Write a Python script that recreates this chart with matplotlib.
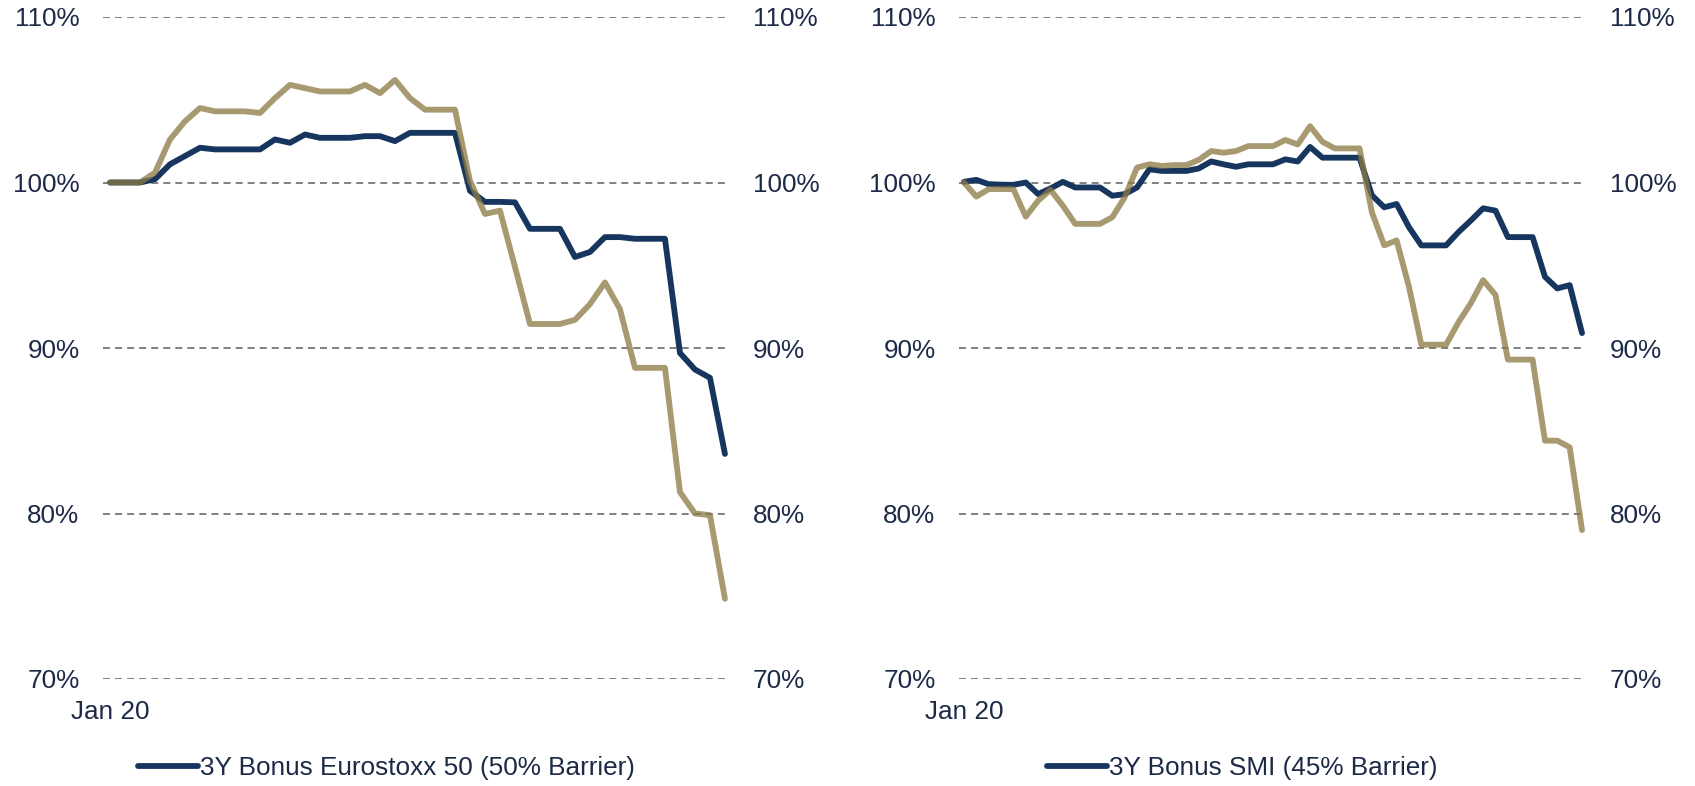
import matplotlib.pyplot as plt
from matplotlib.lines import Line2D

plt.rcParams["font.family"] = ["Liberation Sans", "DejaVu Sans"]

# left panel: 3Y Bonus Eurostoxx 50 vs index (in %)
estx_bonus = [100, 100, 100, 100.2, 101.1, 101.6, 102.1, 102.0, 102.0, 102.0, 102.0, 102.6,
              102.4, 102.9, 102.7, 102.7, 102.7, 102.8, 102.8, 102.5, 103.0, 103.0, 103.0, 103.0,
              99.5, 98.83, 98.83, 98.8, 97.2, 97.2, 97.2, 95.5, 95.8, 96.7, 96.7, 96.6,
              96.6, 96.6, 89.7, 88.7, 88.2, 83.6]
estx_index = [100, 100, 100, 100.6, 102.6, 103.7, 104.5, 104.3, 104.3, 104.3, 104.2, 105.1,
              105.9, 105.7, 105.5, 105.5, 105.5, 105.9, 105.4, 106.2, 105.1, 104.4, 104.4, 104.4,
              100.1, 98.1, 98.3, 94.9, 91.45, 91.45, 91.45, 91.7, 92.65, 93.96, 92.35, 88.8,
              88.8, 88.8, 81.3, 80.0, 79.9, 74.85]

# right panel: 3Y Bonus SMI vs index (in %)
smi_bonus = [100.04, 100.16, 99.9, 99.87, 99.86, 100.0, 99.3, 99.64, 100.04, 99.7, 99.7, 99.7,
             99.2, 99.3, 99.7, 100.8, 100.7, 100.7, 100.7, 100.85, 101.27, 101.1, 100.95, 101.1,
             101.1, 101.1, 101.4, 101.27, 102.15, 101.5, 101.5, 101.5, 101.5, 99.23, 98.5, 98.7,
             97.3, 96.2, 96.2, 96.2, 97.0, 97.7, 98.44, 98.3, 96.7, 96.7, 96.7, 94.3,
             93.6, 93.8, 90.9]
smi_index = [100.0, 99.15, 99.6, 99.6, 99.6, 97.94, 98.9, 99.56, 98.6, 97.5, 97.5, 97.5,
             97.9, 99.1, 100.9, 101.1, 101.0, 101.05, 101.05, 101.37, 101.9, 101.8, 101.9, 102.2,
             102.2, 102.2, 102.57, 102.3, 103.4, 102.46, 102.06, 102.06, 102.06, 98.2, 96.2, 96.5,
             93.7, 90.2, 90.2, 90.2, 91.55, 92.7, 94.1, 93.2, 89.3, 89.3, 89.3, 84.4,
             84.4, 84.0, 79.0]

bonus_labels = ["3Y Bonus Eurostoxx 50 (50% Barrier)", "3Y Bonus SMI (45% Barrier)"]
x_ticklabels = ["Jan 20"]
y_ticks = [70, 80, 90, 100, 110]
y_ticklabels = ["70%", "80%", "90%", "100%", "110%"]

NAVY = "#17365f"
GOLD = "#8c7a45"
TEXT = "#1c2a48"
FS = 18.8
LW = 4.2

W, H = 1695, 786
fig = plt.figure(figsize=(W / 100, H / 100), dpi=100, facecolor="white")

panels = [
    # (left px, width px, bonus, index, xlim, legend x px)
    (103, 626, estx_bonus, estx_index, (-0.467, 41.27), 138),
    (959, 627, smi_bonus, smi_index, (-0.40, 50.32), 1047),
]
top_px, bot_px = 17, 679

for i, (lpx, wpx, bonus, index, xlim, leg_x) in enumerate(panels):
    ax = fig.add_axes([lpx / W, 1 - bot_px / H, wpx / W, (bot_px - top_px) / H])
    xs = list(range(len(bonus)))
    ax.plot(xs, bonus, color=NAVY, lw=LW, solid_capstyle="round", solid_joinstyle="round", zorder=3)
    ax.plot(xs, index, color=GOLD, lw=LW, alpha=0.76, solid_capstyle="round",
            solid_joinstyle="round", zorder=4)

    ax.set_xlim(*xlim)
    ax.set_ylim(70, 110)
    for s in ax.spines.values():
        s.set_visible(False)

    for y in y_ticks:
        ax.axhline(y, color="#808080", lw=1.4, dashes=(3.6, 2.6), zorder=1)

    ax.set_yticks(y_ticks)
    ax.set_yticklabels(y_ticklabels)
    ax.set_xticks([0])
    ax.set_xticklabels(x_ticklabels)
    ax.tick_params(axis="y", which="both", length=0, labelsize=FS, labelcolor=TEXT,
                   pad=17, labelleft=True, labelright=True)
    ax.tick_params(axis="x", length=0, labelsize=FS, labelcolor=TEXT, pad=15)

    handle = Line2D([], [], color=NAVY, lw=LW, solid_capstyle="round")
    fig.legend(handles=[handle], labels=[bonus_labels[i]], loc="center left",
               bbox_to_anchor=(leg_x / W, 1 - 768 / H), frameon=False,
               fontsize=FS, labelcolor=TEXT, handlelength=2.3, handletextpad=0.08,
               borderpad=0, borderaxespad=0)

fig.savefig("out.png", dpi=100, facecolor="white")
